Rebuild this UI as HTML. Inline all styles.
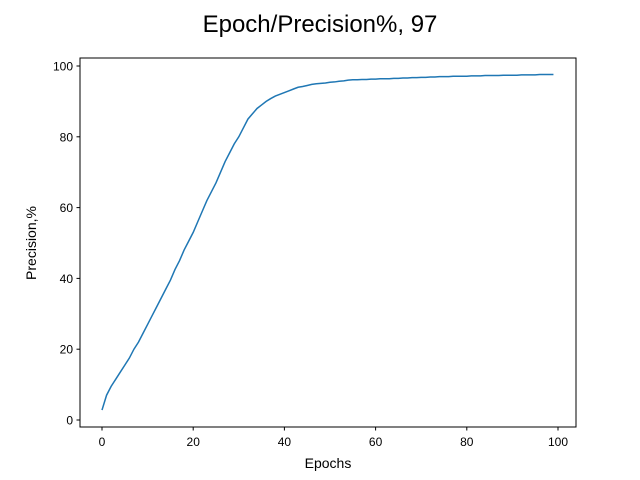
<!DOCTYPE html>
<html><head><meta charset="utf-8"><style>
body{margin:0;background:#fff}
svg{display:block;font-family:"Liberation Sans","DejaVu Sans",sans-serif}
</style></head><body>
<svg id="chart" width="640" height="480">
<rect width="640" height="480" fill="#fff"/>
<text x="320" y="32" font-size="24" text-anchor="middle" fill="#000">Epoch/Precision%, 97</text>
<rect x="80" y="58" width="496" height="369" fill="none" stroke="#000" stroke-width="1"/>
<g id="xticks"></g>
<g id="yticks"></g>
<text x="328" y="468" font-size="14" text-anchor="middle">Epochs</text>
<text transform="translate(36,243) rotate(-90)" font-size="14" text-anchor="middle">Precision,%</text>
<path id="line" fill="none" stroke="#1f77b4" stroke-width="1.5"/>
</svg>
<script>
const precision = [2.8,7,9.5,11.5,13.5,15.5,17.5,20,22,24.5,27,29.5,32,34.5,37,39.5,42.5,45,48,50.5,53,56,59,62,64.5,67,70,73,75.5,78,80,82.5,85,86.5,88,89,90,90.8,91.5,92,92.5,93,93.5,94,94.2,94.5,94.8,95,95.1,95.2,95.4,95.5,95.7,95.8,96,96.1,96.1,96.2,96.2,96.3,96.3,96.4,96.4,96.4,96.5,96.5,96.6,96.6,96.7,96.7,96.8,96.8,96.9,96.9,97,97,97,97.1,97.1,97.1,97.1,97.2,97.2,97.2,97.3,97.3,97.3,97.3,97.4,97.4,97.4,97.4,97.5,97.5,97.5,97.5,97.6,97.6,97.6,97.6];
const xTicks = [0,20,40,60,80,100];
const yTicks = [0,20,40,60,80,100];
const NS="http://www.w3.org/2000/svg";
const xs = v => 102 + v*4.56;
const ys = v => 420 - v*3.54;
const xg=document.getElementById('xticks'), yg=document.getElementById('yticks');
xTicks.forEach(t=>{
  const l=document.createElementNS(NS,'line');
  l.setAttribute('x1',xs(t));l.setAttribute('x2',xs(t));l.setAttribute('y1',427);l.setAttribute('y2',430.5);l.setAttribute('stroke','#000');
  
  
  xg.appendChild(l);
  const tx=document.createElementNS(NS,'text');
  tx.setAttribute('x',xs(t));tx.setAttribute('y',446);tx.setAttribute('font-size','12');tx.setAttribute('text-anchor','middle');tx.textContent=t;
  
  
  xg.appendChild(tx);
});
yTicks.forEach(t=>{
  const l=document.createElementNS(NS,'line');
  l.setAttribute('x1',76.5);l.setAttribute('x2',80);l.setAttribute('y1',ys(t));l.setAttribute('y2',ys(t));l.setAttribute('stroke','#000');
  
  
  yg.appendChild(l);
  const tx=document.createElementNS(NS,'text');
  tx.setAttribute('x',73);tx.setAttribute('y',ys(t)+4.5);tx.setAttribute('font-size','12');tx.setAttribute('text-anchor','end');tx.textContent=t;
  
  
  yg.appendChild(tx);
});
document.getElementById('line').setAttribute('d', precision.map((v,i)=>(i?'L':'M')+xs(i).toFixed(2)+','+ys(v).toFixed(2)).join(''));
</script>
</body></html>
